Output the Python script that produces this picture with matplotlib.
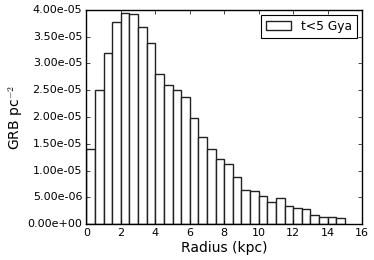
import numpy as np
import matplotlib
matplotlib.use('Agg')
import matplotlib.pyplot as plt
from matplotlib.ticker import FormatStrFormatter

# radial bins (kpc) and GRB surface density per bin
bin_edges = np.arange(0, 15.5, 0.5)
density = np.array([1.40, 2.50, 3.19, 3.78, 3.95, 3.92, 3.68, 3.39, 2.80, 2.60,
                    2.50, 2.38, 1.99, 1.62, 1.41, 1.21, 1.13, 0.88, 0.64, 0.61,
                    0.52, 0.42, 0.49, 0.33, 0.31, 0.29, 0.17, 0.14, 0.14, 0.12]) * 1e-5
label = 't<5 Gya'

plt.style.use('classic')

fig = plt.figure(figsize=(3.74, 2.6), dpi=100, facecolor='white')
ax = fig.add_axes([0.231, 0.138, 0.737, 0.824])

ax.hist(bin_edges[:-1], bins=bin_edges, weights=density, histtype='bar',
        facecolor='white', edgecolor='#222222', linewidth=1.0, label=label)

ax.set_xlim(0, 16)
ax.set_ylim(0, 4e-5)
ax.set_xticks(np.arange(0, 17, 2))
ax.set_yticks(np.arange(0, 4.01e-5, 0.5e-5))
ax.yaxis.set_major_formatter(FormatStrFormatter('%.2e'))
ax.tick_params(labelsize=8, pad=3, length=3)

ax.set_xlabel('Radius (kpc)', fontsize=10, labelpad=2)
ax.set_ylabel('GRB pc$^{-2}$', fontsize=10, labelpad=2)

leg = ax.legend(loc='upper right', fontsize=8.8, fancybox=False,
                handlelength=2.1, borderaxespad=0.4)
leg.get_frame().set_linewidth(0.8)

fig.savefig('out.png', dpi=100, facecolor='white')
